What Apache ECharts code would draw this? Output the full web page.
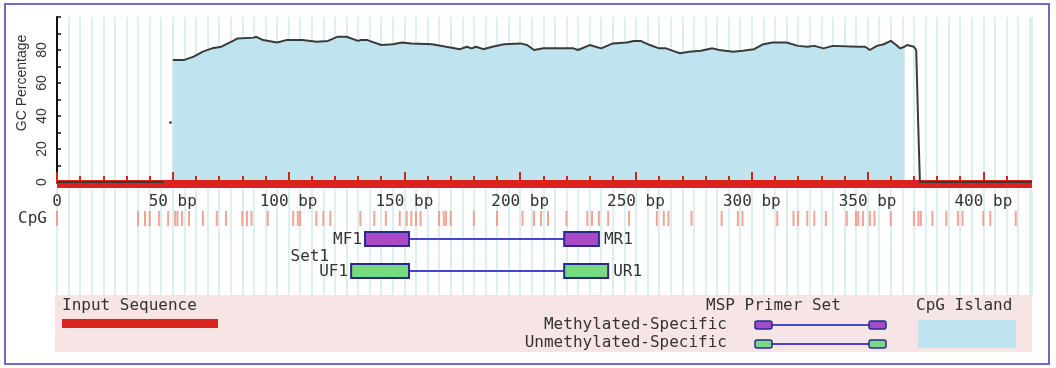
<!DOCTYPE html>
<html><head><meta charset="utf-8">
<script src="https://cdn.jsdelivr.net/npm/echarts@6/dist/echarts.min.js"></script>
<style>html,body{margin:0;padding:0;background:#fff}#c{width:1056px;height:368px}</style>
</head><body><div id="c"></div>
<script>
// ---------------- data ----------------
const seqLength = 421;
const axisLabelValues = [0, 50, 100, 150, 200, 250, 300, 350, 400];
const minorTickValues = [10, 20, 30, 40, 60, 70, 80, 90, 110, 120, 130, 140, 160, 170, 180, 190, 210, 220, 230, 240, 260, 270, 280, 290, 310, 320, 330, 340, 360, 370, 380, 390, 410];
const yTickLabels = [0, 20, 40, 60, 80];

// GC percentage curve (bp position, %GC)
const gcLeftPos = [0, 46];
const gcLeftVal = [0, 0];
const gcDotPos = [49];
const gcDotVal = [36];
const gcPos = [50, 55, 59, 63, 67, 71, 76, 78, 85, 86, 89, 95, 99, 106, 112, 117, 121, 125, 130, 131, 134, 140, 145, 149, 153, 162, 168, 174, 177, 179, 181, 184, 188, 193, 200, 203, 206, 210, 223, 225, 230, 235, 240, 246, 249, 252, 256, 260, 263, 266, 269, 273, 278, 283, 286, 292, 296, 301, 305, 309, 315, 320, 324, 327, 331, 335, 346, 349, 351, 354, 357, 360, 362, 364, 366, 367, 370, 371, 371.8, 372.6, 421];
const gcVal = [74, 74, 76, 79, 81, 82, 85.5, 87, 87.5, 88, 86, 84.5, 86, 86, 85, 85.5, 88, 88, 85.5, 86, 86, 83, 83.5, 84.5, 84, 83.5, 82, 80.5, 82, 81, 82, 80.5, 82, 83.5, 84, 83, 80, 81, 81, 80, 83, 81, 84, 84.5, 85.5, 85.5, 83, 81, 81, 79.5, 78, 79, 79.5, 81, 80, 79, 79.5, 80.5, 83.5, 84.5, 84.5, 82.5, 82, 82.5, 81, 82.5, 82, 82, 80, 82.5, 83.5, 85.5, 83.5, 81, 82, 83, 82, 80, 38, 0, 0];

// CpG island
const islandStart = 50;
const islandEnd = 366;

// CpG sites (bp)
const cpgSites = [0, 35, 38, 40, 44, 48, 51, 52, 54, 57, 63, 69, 73, 80, 82, 84, 91, 102, 104, 105, 112, 115, 118, 131, 137, 142, 148, 151, 153, 155, 157, 165, 167, 168, 170, 180, 190, 201, 206, 209, 212, 220, 229, 231, 234, 238, 247, 259, 262, 264, 274, 287, 294, 296, 311, 318, 320, 324, 327, 332, 341, 345, 346, 348, 351, 353, 360, 370, 372, 373, 378, 384, 389, 391, 400, 403, 414];

// MSP primer set
const primerSetNames = ['Set1'];
const methylatedNames = ['MF1', 'MR1'];
const methylatedForward = [133, 152];
const methylatedReverse = [219, 234];
const unmethylatedNames = ['UF1', 'UR1'];
const unmethylatedForward = [127, 152];
const unmethylatedReverse = [219, 238];

// ---------------- chart ----------------
const MONO = "'DejaVu Sans Mono', monospace";
const SANS = "'Liberation Sans', Arial, sans-serif";
const TXT = '#333';
const STRIPE = '#ddf0f0';
const ISLAND = '#bfe3ef';
const RED = '#d8231f';
const NAVY = '#2a2a8c';
const LINK = '#4646cc';
const MFILL = '#a64bc8';
const UFILL = '#78d886';

const gcData = gcPos.map((p, i) => [p, gcVal[i]]);
const islandData = gcData.filter(d => d[0] >= islandStart && d[0] <= islandEnd);

function primerRenderer(names, fill, setLabel) {
  return function (params, api) {
    const a = api.coord([api.value(0), 0]);
    const b = api.coord([api.value(1), 0]);
    const c = api.coord([api.value(2), 0]);
    const d = api.coord([api.value(3), 0]);
    const h = api.size([0, 1])[1];
    const cy = a[1];
    const top = cy - h / 2 + 1, hh = h - 2;
    const tstyle = { font: '16px ' + MONO, fill: TXT, verticalAlign: 'middle' };
    const children = [
      { type: 'line', shape: { x1: b[0], y1: cy, x2: c[0], y2: cy }, style: { stroke: LINK, lineWidth: 2 } },
      { type: 'rect', shape: { x: a[0], y: top, width: b[0] - a[0], height: hh }, style: { fill: fill, stroke: NAVY, lineWidth: 2 } },
      { type: 'rect', shape: { x: c[0], y: top, width: d[0] - c[0], height: hh }, style: { fill: fill, stroke: NAVY, lineWidth: 2 } },
      { type: 'text', x: a[0] - 3, y: cy + 1, style: Object.assign({ text: names[0], align: 'right' }, tstyle) },
      { type: 'text', x: d[0] + 5, y: cy + 1, style: Object.assign({ text: names[1], align: 'left' }, tstyle) }
    ];
    if (setLabel) {
      children.push({ type: 'text', x: a[0] - 22, y: cy - 14, style: Object.assign({ text: setLabel, align: 'right' }, tstyle) });
    }
    return { type: 'group', children: children };
  };
}

const gridBase = { left: 57, right: 24 };
const hiddenX = (g) => ({ type: 'value', gridIndex: g, min: 0, max: seqLength, show: false });

const option = {
  animation: false,
  backgroundColor: '#fff',
  grid: [
    Object.assign({ top: 17, height: 165 }, gridBase),
    Object.assign({ top: 189, height: 106 }, gridBase),
    Object.assign({ top: 211, height: 15 }, gridBase),
    Object.assign({ top: 231, height: 16 }, gridBase),
    Object.assign({ top: 263, height: 16 }, gridBase)
  ],
  xAxis: [
    { // stripes upper
      type: 'value', gridIndex: 0, min: 0, max: seqLength, interval: 5, z: 0,
      axisLine: { show: false }, axisTick: { show: false }, axisLabel: { show: false },
      splitLine: { show: true, lineStyle: { color: STRIPE, width: 2 } }
    },
    { // major axis (red bar)
      type: 'value', gridIndex: 0, min: 0, max: seqLength, interval: 50, position: 'bottom', offset: 2, z: 2,
      axisLine: { show: true, lineStyle: { color: RED, width: 8, cap: 'butt' } },
      axisTick: { show: true, inside: true, length: 12, customValues: axisLabelValues, lineStyle: { color: RED, width: 2 } },
      axisLabel: { show: true, customValues: axisLabelValues, margin: 10, fontFamily: MONO, fontSize: 16, color: TXT,
        formatter: v => (v === 0 ? '0' : v + ' bp') },
      splitLine: { show: false }
    },
    { // minor ticks
      type: 'value', gridIndex: 0, min: 0, max: seqLength, interval: 10, position: 'bottom', offset: 2, z: 2,
      axisLine: { show: false },
      axisTick: { show: true, inside: true, length: 8, customValues: minorTickValues, lineStyle: { color: RED, width: 2 } },
      axisLabel: { show: false }, splitLine: { show: false }
    },
    { // stripes lower
      type: 'value', gridIndex: 1, min: 0, max: seqLength, interval: 5, z: 0,
      axisLine: { show: false }, axisTick: { show: false }, axisLabel: { show: false },
      splitLine: { show: true, lineStyle: { color: STRIPE, width: 2 } }
    },
    hiddenX(2), hiddenX(3), hiddenX(4)
  ],
  yAxis: [
    {
      type: 'value', gridIndex: 0, min: 0, max: 100, interval: 10, z: 2,
      axisLine: { show: true, lineStyle: { color: '#111', width: 2 } },
      axisTick: { show: true, inside: true, length: 4, lineStyle: { color: '#111', width: 1.5 } },
      axisLabel: { show: true, rotate: 90, margin: 8, fontFamily: SANS, fontSize: 14, color: TXT,
        formatter: v => (yTickLabels.indexOf(v) >= 0 ? String(v) : '') },
      splitLine: { show: false }
    },
    { type: 'value', gridIndex: 1, show: false, min: 0, max: 1 },
    {
      type: 'category', gridIndex: 2, data: ['CpG'],
      axisLine: { show: false }, axisTick: { show: false },
      axisLabel: { margin: 10, fontFamily: MONO, fontSize: 16, color: TXT }
    },
    { type: 'category', gridIndex: 3, data: ['M'], show: false },
    { type: 'category', gridIndex: 4, data: ['U'], show: false }
  ],
  series: [
    {
      type: 'line', xAxisIndex: 1, yAxisIndex: 0, data: islandData, showSymbol: false, symbol: 'none',
      lineStyle: { width: 0 }, areaStyle: { color: ISLAND, opacity: 1 }, z: 1
    },
    {
      type: 'line', xAxisIndex: 1, yAxisIndex: 0, data: gcData, symbol: 'none',
      lineStyle: { color: '#3a3a3a', width: 2 }, z: 3
    },
    {
      type: 'line', xAxisIndex: 1, yAxisIndex: 0, data: gcLeftPos.map((p, i) => [p, gcLeftVal[i]]), symbol: 'none',
      lineStyle: { color: '#3a3a3a', width: 2 }, z: 3
    },
    {
      type: 'scatter', xAxisIndex: 1, yAxisIndex: 0, data: gcDotPos.map((p, i) => [p, gcDotVal[i]]),
      symbolSize: 3, itemStyle: { color: '#333' }, z: 3
    },
    {
      type: 'scatter', xAxisIndex: 4, yAxisIndex: 2, data: cpgSites.map(p => [p, 0]),
      symbol: 'rect', symbolSize: [2, 15], itemStyle: { color: '#ee8f7c' }, z: 3
    },
    {
      type: 'custom', xAxisIndex: 5, yAxisIndex: 3,
      renderItem: primerRenderer(methylatedNames, MFILL, null),
      encode: { x: [0, 1, 2, 3], y: 4 },
      data: [[methylatedForward[0], methylatedForward[1], methylatedReverse[0], methylatedReverse[1], 0]], z: 4
    },
    {
      type: 'custom', xAxisIndex: 6, yAxisIndex: 4,
      renderItem: primerRenderer(unmethylatedNames, UFILL, primerSetNames[0]),
      encode: { x: [0, 1, 2, 3], y: 4 },
      data: [[unmethylatedForward[0], unmethylatedForward[1], unmethylatedReverse[0], unmethylatedReverse[1], 0]], z: 4
    }
  ],
  graphic: [
    { type: 'rect', shape: { x: 55, y: 295, width: 977, height: 57 }, style: { fill: '#f7e5e5' }, z: 0 },
    { type: 'text', x: 62, y: 306, style: { text: 'Input Sequence', font: '16px ' + MONO, fill: TXT, align: 'left', verticalAlign: 'middle' } },
    { type: 'rect', shape: { x: 62, y: 319, width: 156, height: 9 }, style: { fill: RED } },
    { type: 'text', x: 706, y: 306, style: { text: 'MSP Primer Set', font: '16px ' + MONO, fill: TXT, align: 'left', verticalAlign: 'middle' } },
    { type: 'text', x: 727, y: 325, style: { text: 'Methylated-Specific', font: '16px ' + MONO, fill: TXT, align: 'right', verticalAlign: 'middle' } },
    { type: 'text', x: 727, y: 343, style: { text: 'Unmethylated-Specific', font: '16px ' + MONO, fill: TXT, align: 'right', verticalAlign: 'middle' } },
    { type: 'line', shape: { x1: 772, y1: 325, x2: 869, y2: 325 }, style: { stroke: LINK, lineWidth: 2 } },
    { type: 'rect', shape: { x: 755, y: 321, width: 17, height: 8, r: 2 }, style: { fill: MFILL, stroke: NAVY, lineWidth: 1.5 } },
    { type: 'rect', shape: { x: 869, y: 321, width: 17, height: 8, r: 2 }, style: { fill: MFILL, stroke: NAVY, lineWidth: 1.5 } },
    { type: 'line', shape: { x1: 772, y1: 344, x2: 869, y2: 344 }, style: { stroke: LINK, lineWidth: 2 } },
    { type: 'rect', shape: { x: 755, y: 340, width: 17, height: 8, r: 2 }, style: { fill: UFILL, stroke: NAVY, lineWidth: 1.5 } },
    { type: 'rect', shape: { x: 869, y: 340, width: 17, height: 8, r: 2 }, style: { fill: UFILL, stroke: NAVY, lineWidth: 1.5 } },
    { type: 'text', x: 916, y: 306, style: { text: 'CpG Island', font: '16px ' + MONO, fill: TXT, align: 'left', verticalAlign: 'middle' } },
    { type: 'rect', shape: { x: 918, y: 320, width: 98, height: 28 }, style: { fill: ISLAND } },
    { type: 'text', x: 22, y: 83, rotation: Math.PI / 2, style: { text: 'GC Percentage', font: '14px ' + SANS, fill: TXT, align: 'center', verticalAlign: 'middle' } },
    { type: 'rect', shape: { x: 5, y: 4, width: 1044, height: 360 }, style: { fill: 'none', stroke: '#7167c4', lineWidth: 2 }, z: 10 }
  ]
};

const chart = echarts.init(document.getElementById('c'), null, { renderer: 'canvas' });
chart.setOption(option);
</script>
</body></html>
